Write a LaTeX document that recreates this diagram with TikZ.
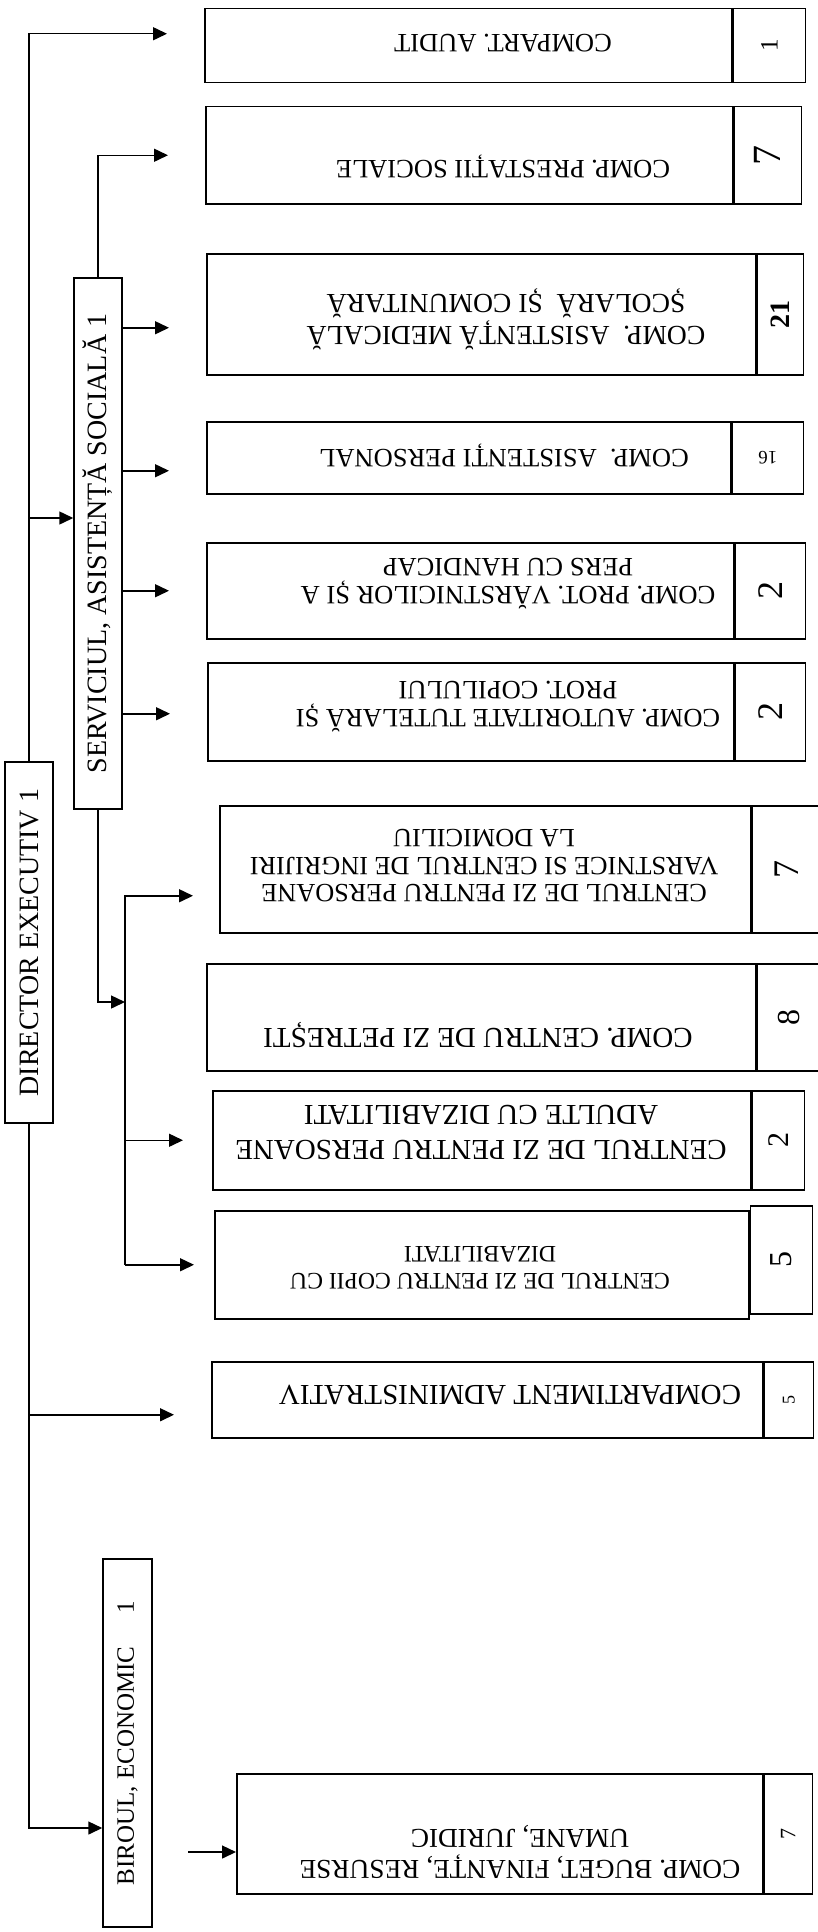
\documentclass[tikz,border=0pt]{standalone}
\usepackage{fontspec}
\setmainfont{Liberation Serif}
\usetikzlibrary{arrows.meta}

\newcommand{\fs}[2]{\fontsize{#1}{#2}\selectfont}

\begin{document}
\begin{tikzpicture}[x=1pt,y=-1pt,
	unit/.style={draw,rectangle,line width=1.5pt,anchor=north west,inner sep=0pt},
	cell/.style={unit,font=\fs{30}{30}},
	txt/.style={rotate=180,align=center,inner sep=0pt,font=\fs{26.5}{28}},
	lbl/.style={draw,rectangle,line width=1.5pt,inner sep=0pt,font=\fs{28}{28}},
	arr/.style={-{Triangle[length=14pt,width=13pt]},line width=1.5pt},
	gap/.style={shorten >=#1},gap/.default=37pt]
	\useasboundingbox (0,0) rectangle (818,1932);
	% left column
	\node[lbl,minimum width=48pt,minimum height=361pt] (dir) at (29,942.5) {\rotatebox{90}{DIRECTOR EXECUTIV 1}};
	\node[lbl,minimum width=48pt,minimum height=531pt] (srv) at (98,543.5) {\rotatebox{90}{SERVICIUL, ASISTENȚĂ SOCIALĂ 1}};
	\node[lbl,minimum width=49pt,minimum height=368pt,font=\fs{25}{25}] (bir) at (127.5,1743) {\rotatebox{90}{BIROUL, ECONOMIC\hspace{33pt}1}};
	% compartments
	\node[unit,minimum width=527pt,minimum height=74pt] (audit) at (204,8) {};
	\node[cell,minimum width=72pt,minimum height=74pt,font=\fs{25}{25}] (auditn) at (audit.north east) {\rotatebox{90}{1}};
	\node[txt] (audittxt) at (503,43) {COMPART. AUDIT};
	\node[unit,minimum width=527pt,minimum height=97pt] (prest) at (205,106) {};
	\node[cell,minimum width=67pt,minimum height=97pt,font=\fs{40}{40}] (prestn) at (prest.north east) {\rotatebox{90}{7}};
	\node[txt] (presttxt) at (503,166) {COMP. PRESTAȚII SOCIALE};
	\node[unit,minimum width=549pt,minimum height=121pt] (med) at (206,253) {};
	\node[cell,minimum width=46pt,minimum height=121pt,font=\fs{28}{28}\bfseries] (medn) at (med.north east) {\rotatebox{90}{21}};
	\node[txt,font=\fs{27.6}{32}] (medtxt) at (506,319) {COMP.\ \ ASISTENȚĂ MEDICALĂ\\ȘCOLARĂ\ \ ȘI COMUNITARĂ};
	\node[unit,minimum width=524pt,minimum height=72pt] (pers) at (206,421) {};
	\node[cell,minimum width=71pt,minimum height=72pt,font=\fs{19}{19}] (persn) at (pers.north east) {\rotatebox{180}{16}};
	\node[txt] (perstxt) at (504,455) {COMP.\ \ ASISTENȚI PERSONAL};
	\node[unit,minimum width=527pt,minimum height=96pt] (varst) at (206,542) {};
	\node[cell,minimum width=70pt,minimum height=96pt,font=\fs{36}{36}] (varstn) at (varst.north east) {\rotatebox{90}{2}};
	\node[txt] (varsttxt) at (508,584) {COMP. PROT. VĂRSTNICILOR ȘI A\\PERS CU HANDICAP};
	\node[unit,minimum width=526pt,minimum height=98pt] (autor) at (207,662) {};
	\node[cell,minimum width=70pt,minimum height=98pt,font=\fs{36}{36}] (autorn) at (autor.north east) {\rotatebox{90}{2}};
	\node[txt] (autortxt) at (508,707) {COMP. AUTORITATE TUTELARĂ ȘI\\PROT. COPILULUI};
	\node[unit,minimum width=531pt,minimum height=127pt] (cv) at (219,805) {};
	\node[cell,minimum width=68pt,minimum height=127pt,font=\fs{36}{36}] (cvn) at (cv.north east) {\rotatebox{90}{7}};
	\node[txt,font=\fs{26.3}{27.5}] (cvtxt) at (484,866) {CENTRUL DE ZI PENTRU PERSOANE\\VARSTNICE SI CENTRUL DE INGRIJIRI\\LA DOMICILIU};
	\node[unit,minimum width=549pt,minimum height=107pt] (petr) at (206,963) {};
	\node[cell,minimum width=63pt,minimum height=107pt,font=\fs{32}{32}] (petrn) at (petr.north east) {\rotatebox{90}{8}};
	\node[txt,font=\fs{29}{30}] (petrtxt) at (478,1035) {COMP. CENTRU DE ZI PETREȘTI};
	\node[unit,minimum width=538pt,minimum height=99pt] (adu) at (212,1090) {};
	\node[cell,minimum width=52pt,minimum height=99pt,font=\fs{30}{30}] (adun) at (adu.north east) {\rotatebox{90}{2}};
	\node[txt,font=\fs{29}{35}] (adutxt) at (481,1132) {CENTRUL DE ZI PENTRU PERSOANE\\ADULTE CU DIZABILITATI};
	\node[unit,minimum width=534pt,minimum height=108pt] (cop) at (214,1210) {};
	\node[cell,minimum width=62pt,minimum height=108pt,font=\fs{32}{32}] (copn) at ([yshift=5pt]cop.north east) {\rotatebox{90}{5}};
	\node[txt,font=\fs{23.7}{27}] (coptxt) at (480,1268) {CENTRUL DE ZI PENTRU COPII CU\\DIZABILITATI};
	\node[unit,minimum width=551pt,minimum height=76pt] (adm) at (211,1361) {};
	\node[cell,minimum width=49pt,minimum height=76pt,font=\fs{18}{18}] (admn) at (adm.north east) {\rotatebox{90}{5}};
	\node[txt,font=\fs{29}{30}] (admtxt) at (510,1395) {COMPARTIMENT ADMINISTRATIV};
	\node[unit,minimum width=526pt,minimum height=120pt] (bug) at (236,1773) {};
	\node[cell,minimum width=48pt,minimum height=120pt,font=\fs{22}{22}] (bugn) at (bug.north east) {\rotatebox{90}{7}};
	\node[txt,font=\fs{27.3}{31}] (bugtxt) at (520,1852) {COMP. BUGET, FINANȚE, RESURSE\\UMANE, JURIDIC};
	% director links
	\draw[arr,gap] (dir.north) |- ([yshift=12pt]audit.west);
	\path ([yshift=25.5pt]srv.west) coordinate (tosrv);
	\draw[arr] (tosrv -| dir.north) -- (tosrv);
	\path ([yshift=-15pt]adm.west) coordinate (toadm);
	\draw[arr,gap] (toadm -| dir.south) -- (toadm);
	\draw[arr] (dir.south) |- ([yshift=-85pt]bir.west);
	% service links
	\draw[arr,gap] (srv.north) |- (prest.west);
	\foreach \b/\dy in {med/-13.5,pers/-13,varst/0,autor/-2} {
		\path ([yshift=\dy pt]\b.west) coordinate (t);
		\draw[arr,gap] (t -| srv.east) -- (t);
	}
	\coordinate (bus) at (125,0);
	\coordinate (tobus) at (125,1002);
	\path ([yshift=-26.5pt]cv.west) coordinate (tocv);
	\draw[arr] (srv.south) |- (tobus);
	\draw[arr,gap=26pt] (cop.west -| bus) |- (tocv);
	\draw[arr,gap=29pt] (adu.west -| bus) -- (adu.west);
	\draw[arr,gap=20pt] (cop.west -| bus) -- (cop.west);
	% economic
	\coordinate (bugin) at (188,1852);
	\draw[arr] (bugin) -- (bugin -| bug.west);
\end{tikzpicture}
\end{document}
